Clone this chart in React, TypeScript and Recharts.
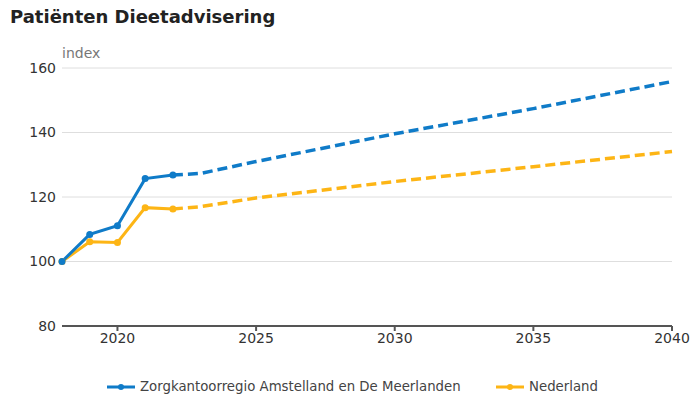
import { LineChart, Line, XAxis, YAxis, CartesianGrid } from 'recharts'

const YEARS = [2018, 2019, 2020, 2021, 2022, 2023, 2025, 2030, 2035, 2040]
const REGIO = [100, 108.4, 111.1, 125.7, 126.8, null, null, null, null, null]
const REGIO_PROGNOSE = [null, null, null, null, 126.8, 127.3, 131.0, 139.6, 147.4, 155.8]
const NL = [100, 106.1, 105.9, 116.7, 116.3, null, null, null, null, null]
const NL_PROGNOSE = [null, null, null, null, 116.3, 117.0, 119.7, 124.8, 129.4, 134.1]
const X_TICKS = [2020, 2025, 2030, 2035, 2040]
const Y_TICKS = [80, 100, 120, 140, 160]

const BLUE = '#0f7bc8'
const ORANGE = '#fdb515'
const FONT = '"DejaVu Sans", Verdana, sans-serif'

const data = YEARS.map((year, i) => ({
  year,
  regio: REGIO[i],
  regioP: REGIO_PROGNOSE[i],
  nl: NL[i],
  nlP: NL_PROGNOSE[i],
}))

function LegendItem({ color, label, left }: { color: string; label: string; left: number }) {
  return (
    <div style={{ position: 'absolute', left, top: 379, display: 'flex', alignItems: 'center', fontSize: 13.3, color: '#444' }}>
      <svg width={28} height={10} style={{ marginRight: 5 }}>
        <line x1={0} y1={5} x2={28} y2={5} stroke={color} strokeWidth={3} />
        <circle cx={14} cy={5} r={3} fill={color} />
      </svg>
      {label}
    </div>
  )
}

export default function App() {
  return (
    <div style={{ position: 'relative', width: 695, height: 396, fontFamily: FONT, background: '#fff' }}>
      <style>{'body{margin:0}'}</style>
      <div style={{ position: 'absolute', left: 10, top: 6, fontSize: 18, fontWeight: 700, color: '#222' }}>
        Patiënten Dieetadvisering
      </div>
      <div style={{ position: 'absolute', left: 62, top: 45, fontSize: 14, color: '#777' }}>index</div>
      <LineChart width={695} height={396} data={data} margin={{ top: 68, right: 23, bottom: 0, left: 0 }}>
        <CartesianGrid stroke="#dedede" vertical={false} />
        <XAxis
          dataKey="year" type="number" domain={[2018, 2040]} ticks={X_TICKS} height={70}
          tick={{ fill: '#333', fontSize: 14, fontFamily: FONT }}
          axisLine={{ stroke: '#555', strokeWidth: 2 }} tickLine={{ stroke: '#555', strokeWidth: 2 }} tickSize={5}
        />
        <YAxis
          domain={[80, 160]} ticks={Y_TICKS} width={62} axisLine={false} tickLine={false} tickSize={0} tickMargin={6}
          tick={{ fill: '#333', fontSize: 14, fontFamily: FONT }}
        />
        <Line dataKey="regioP" stroke={BLUE} strokeWidth={3.5} strokeDasharray="10 5" dot={false} isAnimationActive={false} connectNulls />
        <Line dataKey="nlP" stroke={ORANGE} strokeWidth={3.5} strokeDasharray="10 5" dot={false} isAnimationActive={false} connectNulls />
        <Line dataKey="nl" stroke={ORANGE} strokeWidth={3} dot={{ r: 3.5, fill: ORANGE, stroke: 'none' }} isAnimationActive={false} />
        <Line dataKey="regio" stroke={BLUE} strokeWidth={3} dot={{ r: 3.5, fill: BLUE, stroke: 'none' }} isAnimationActive={false} />
      </LineChart>
      <LegendItem color={BLUE} label="Zorgkantoorregio Amstelland en De Meerlanden" left={107} />
      <LegendItem color={ORANGE} label="Nederland" left={496} />
    </div>
  )
}
